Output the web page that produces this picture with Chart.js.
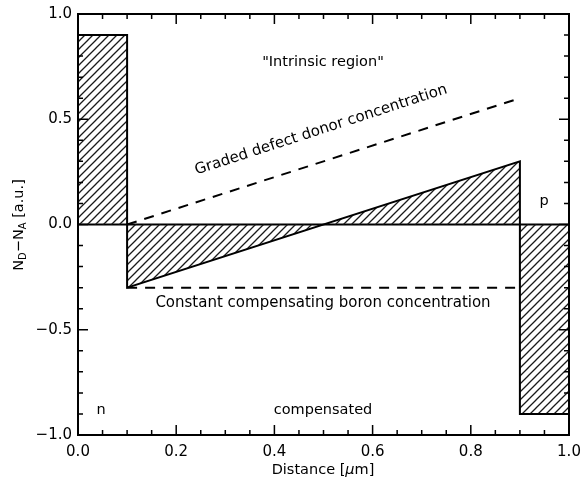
<!DOCTYPE html>
<html>
<head>
<meta charset="utf-8">
<script src="https://cdn.jsdelivr.net/npm/chart.js@4.4.1/dist/chart.umd.min.js"></script>
<style>
  html, body { margin: 0; padding: 0; background: #fff; }
</style>
</head>
<body>
<canvas id="profile" width="581" height="480"></canvas>
<script>
// Net doping profile N_D - N_A across the device (x in um)
const nSideX = [0, 0, 0.1, 0.1];
const nSideY = [0, 0.9, 0.9, 0];

const compX = [0.1, 0.1, 0.9, 0.9];
const compY = [0, -0.3, 0.3, 0];

const pSideX = [0.9, 0.9, 1.0, 1.0];
const pSideY = [0, -0.9, -0.9, 0];

const zeroX = [0, 1];
const zeroY = [0, 0];

const donorX = [0.1, 0.9];
const donorY = [0, 0.6];

const boronX = [0.1, 0.9];
const boronY = [-0.3, -0.3];

const xTicks = [0, 0.2, 0.4, 0.6, 0.8, 1.0];
const yTicks = [-1.0, -0.5, 0, 0.5, 1.0];

const FONT = '"DejaVu Sans", sans-serif';
const INK = '#000';

const pts = (xs, ys) => xs.map((x, i) => ({ x: x, y: ys[i] }));

// diagonal hatching "///"
const makeHatch = () => {
  const size = 8;
  const c = document.createElement('canvas');
  c.width = size;
  c.height = size;
  const g = c.getContext('2d');
  g.strokeStyle = '#1a1a1a';
  g.lineWidth = 1.3;
  g.beginPath();
  g.moveTo(-1, size + 1);
  g.lineTo(size + 1, -1);
  g.moveTo(-1, 1);
  g.lineTo(1, -1);
  g.moveTo(size - 1, size + 1);
  g.lineTo(size + 1, size - 1);
  g.stroke();
  return g.createPattern(c, 'repeat');
};
const hatch = makeHatch();

const hatched = (data) => ({
  data: data,
  showLine: true,
  pointRadius: 0,
  borderColor: INK,
  borderWidth: 2,
  backgroundColor: hatch,
  fill: 'origin',
  tension: 0,
});

const plain = (data, dash) => ({
  data: data,
  showLine: true,
  pointRadius: 0,
  borderColor: INK,
  borderWidth: 2,
  borderDash: dash,
  fill: false,
  tension: 0,
});

// frame, inside ticks on all sides, labels and axis titles
const decorations = {
  id: 'decorations',
  afterDraw(chart) {
    const ctx = chart.ctx;
    const a = chart.chartArea;
    const xs = chart.scales.x;
    const ys = chart.scales.y;
    ctx.save();
    ctx.strokeStyle = INK;
    ctx.lineWidth = 2;
    ctx.strokeRect(a.left, a.top, a.right - a.left, a.bottom - a.top);

    ctx.lineWidth = 1.5;
    ctx.beginPath();
    for (let i = 0; i <= 20; i++) {
      const v = i * 0.05;
      const px = xs.getPixelForValue(v);
      const len = i % 4 === 0 ? 10 : 5;
      ctx.moveTo(px, a.bottom);
      ctx.lineTo(px, a.bottom - len);
      ctx.moveTo(px, a.top);
      ctx.lineTo(px, a.top + len);
    }
    for (let i = 0; i <= 20; i++) {
      const v = -1 + i * 0.1;
      const py = ys.getPixelForValue(v);
      const len = i % 5 === 0 ? 10 : 5;
      ctx.moveTo(a.left, py);
      ctx.lineTo(a.left + len, py);
      ctx.moveTo(a.right, py);
      ctx.lineTo(a.right - len, py);
    }
    ctx.stroke();

    ctx.fillStyle = INK;
    ctx.textAlign = 'center';
    ctx.textBaseline = 'middle';
    ctx.font = '14.5px ' + FONT;
    ctx.fillText('"Intrinsic region"', 323, 62);
    ctx.font = '15px ' + FONT;
    ctx.fillText('Constant compensating boron concentration', 323, 303);
    ctx.font = '14.5px ' + FONT;
    ctx.fillText('compensated', 323, 410);
    ctx.fillText('n', 101, 410);
    ctx.fillText('p', 544, 201);

    ctx.save();
    ctx.translate(321, 130);
    ctx.rotate(-18 * Math.PI / 180);
    ctx.font = '15px ' + FONT;
    ctx.fillText('Graded defect donor concentration', 0, 0);
    ctx.restore();

    // x title with italic mu
    ctx.textAlign = 'left';
    const partsX = [
      ['Distance [', '14.5px ' + FONT],
      ['\u03bc', 'italic 14.5px ' + FONT],
      ['m]', '14.5px ' + FONT],
    ];
    let w = 0;
    partsX.forEach(p => { ctx.font = p[1]; w += ctx.measureText(p[0]).width; });
    let cx = 323 - w / 2;
    partsX.forEach(p => {
      ctx.font = p[1];
      ctx.fillText(p[0], cx, 470);
      cx += ctx.measureText(p[0]).width;
    });

    // y title with subscripts
    ctx.save();
    ctx.translate(19, 225);
    ctx.rotate(-Math.PI / 2);
    const partsY = [
      ['N', 14.5, 0],
      ['D', 10, 4],
      ['\u2212N', 14.5, 0],
      ['A', 10, 4],
      [' [a.u.]', 14.5, 0],
    ];
    w = 0;
    partsY.forEach(p => { ctx.font = p[1] + 'px ' + FONT; w += ctx.measureText(p[0]).width; });
    cx = -w / 2;
    partsY.forEach(p => {
      ctx.font = p[1] + 'px ' + FONT;
      ctx.fillText(p[0], cx, p[2]);
      cx += ctx.measureText(p[0]).width;
    });
    ctx.restore();

    ctx.restore();
  },
};

const fmt = (v) => v.toFixed(1).replace('-', '\u2212');

const profileChart = new Chart(document.getElementById('profile'), {
  type: 'scatter',
  data: {
    datasets: [
      hatched(pts(nSideX, nSideY)),
      hatched(pts(compX, compY)),
      hatched(pts(pSideX, pSideY)),
      plain(pts(zeroX, zeroY), []),
      plain(pts(donorX, donorY), [10, 8]),
      plain(pts(boronX, boronY), [10, 8]),
    ],
  },
  options: {
    responsive: false,
    animation: false,
    devicePixelRatio: 1,
    layout: { padding: { top: 14, right: 12, left: 0, bottom: 0 } },
    plugins: {
      legend: { display: false },
      tooltip: { enabled: false },
    },
    scales: {
      x: {
        type: 'linear',
        min: 0,
        max: 1,
        afterBuildTicks: (s) => { s.ticks = xTicks.map(v => ({ value: v })); },
        ticks: {
          callback: (v) => fmt(v),
          color: INK,
          font: { family: FONT, size: 15 },
          padding: 8,
          maxRotation: 0,
        },
        grid: { display: false, drawTicks: false },
        border: { display: false },
        afterFit: (s) => {
          s.height = 45;
          s.paddingLeft = 0;
          s.paddingRight = 0;
        },
      },
      y: {
        min: -1,
        max: 1,
        afterBuildTicks: (s) => { s.ticks = yTicks.map(v => ({ value: v })); },
        ticks: {
          callback: (v) => fmt(v),
          color: INK,
          font: { family: FONT, size: 15 },
          padding: 6,
        },
        grid: { display: false, drawTicks: false },
        border: { display: false },
        afterFit: (s) => {
          s.width = 78;
          s.paddingTop = 0;
          s.paddingBottom = 0;
        },
      },
    },
  },
  plugins: [decorations],
});
</script>
</body>
</html>
